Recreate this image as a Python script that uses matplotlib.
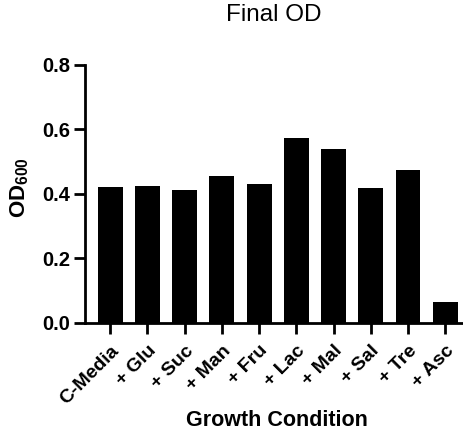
import matplotlib
matplotlib.use("Agg")
import matplotlib.pyplot as plt

conditions = ["C-Media", "+ Glu", "+ Suc", "+ Man", "+ Fru", "+ Lac", "+ Mal", "+ Sal", "+ Tre", "+ Asc"]
final_od = [0.421, 0.424, 0.412, 0.456, 0.430, 0.574, 0.539, 0.419, 0.474, 0.064]
y_ticks = [0.0, 0.2, 0.4, 0.6, 0.8]

plt.rcParams['font.family'] = ['Liberation Sans', 'DejaVu Sans']
plt.rcParams['mathtext.fontset'] = 'custom'
plt.rcParams['mathtext.rm'] = 'Liberation Sans'
plt.rcParams['mathtext.bf'] = 'Liberation Sans:bold'

fig = plt.figure(figsize=(4.63, 4.33), dpi=100)
ax = fig.add_axes([84.5 / 463, 1 - 322.7 / 433, (462 - 84.5) / 463, (322.7 - 65) / 433])

x = range(len(conditions))
ax.bar(x, final_od, width=0.67, color='black')

ax.set_xlim(-0.69, 9.45)
ax.set_ylim(0, 0.8)
ax.set_yticks(y_ticks)
ax.set_yticklabels([f"{v:.1f}" for v in y_ticks], fontsize=14.5, fontweight='bold')
ax.set_xticks(list(x))
ax.set_xticklabels(conditions, rotation=45, ha='right', rotation_mode='anchor',
                   fontsize=14, fontweight='bold')

for side in ['top', 'right']:
    ax.spines[side].set_visible(False)
for side in ['left', 'bottom']:
    ax.spines[side].set_linewidth(2)
ax.tick_params(width=2, length=8, color='black')
ax.tick_params(axis='x', pad=6)
ax.tick_params(axis='y', pad=2)

ax.set_title("Final OD", fontsize=17.5, pad=32)
fig.text(20 / 463, 1 - 188 / 433, r"$\mathbf{OD}_{\mathbf{600}}$", rotation=90,
         ha='center', va='center', fontsize=16)
fig.text(277 / 463, 2 / 433, "Growth Condition", ha='center', va='bottom',
         fontsize=15.5, fontweight='bold')

fig.savefig("out.png", dpi=100)
